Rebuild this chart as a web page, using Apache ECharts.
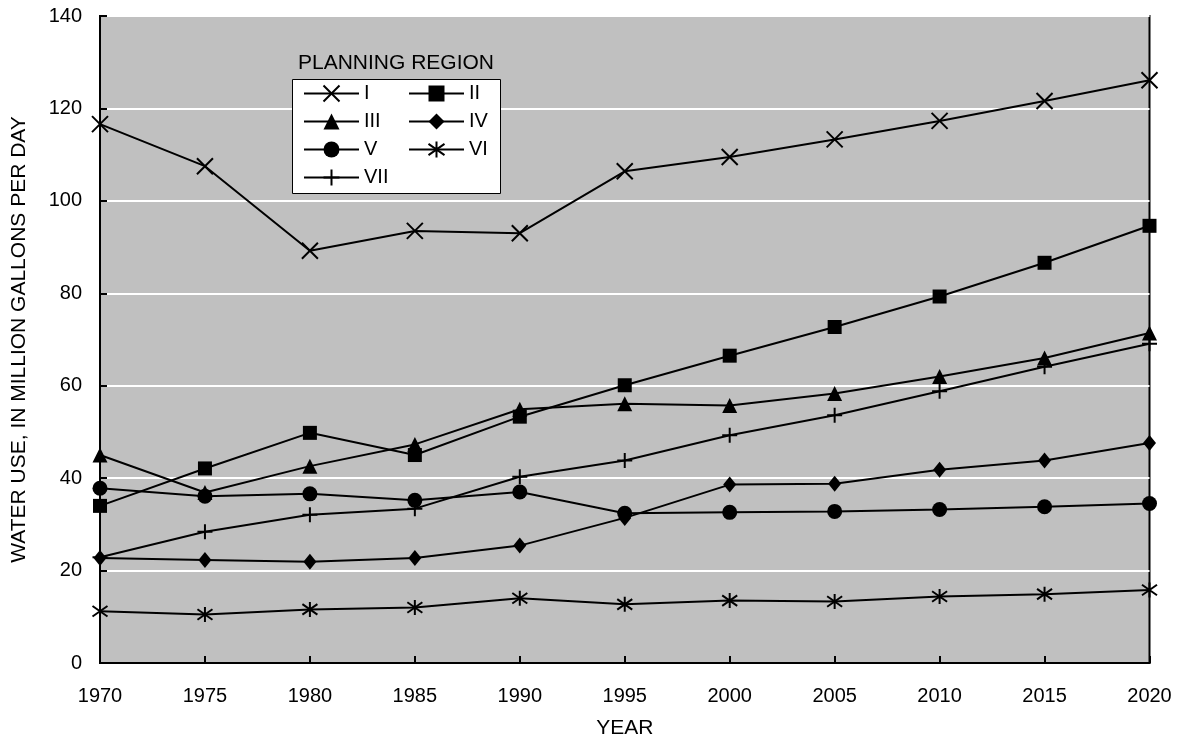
<!DOCTYPE html>
<html>
<head>
<meta charset="utf-8">
<script src="https://cdn.jsdelivr.net/npm/echarts@6/dist/echarts.min.js"></script>
<style>
html,body{margin:0;padding:0;background:#fff;}
#chart{width:1184px;height:744px;}
</style>
</head>
<body>
<div id="chart"></div>
<script>
const years = ['1970','1975','1980','1985','1990','1995','2000','2005','2010','2015','2020'];
const regionI   = [116.6, 107.5, 89.2, 93.5, 93.0, 106.4, 109.5, 113.3, 117.3, 121.6, 126.1];
const regionII  = [34.0, 42.1, 49.8, 45.0, 53.3, 60.1, 66.5, 72.7, 79.3, 86.6, 94.6];
const regionIII = [45.0, 36.9, 42.6, 47.3, 54.9, 56.1, 55.7, 58.3, 62.0, 66.0, 71.4];
const regionIV  = [22.7, 22.3, 21.9, 22.7, 25.4, 31.4, 38.6, 38.8, 41.8, 43.8, 47.6];
const regionV   = [37.8, 36.1, 36.6, 35.2, 37.0, 32.4, 32.6, 32.8, 33.2, 33.8, 34.5];
const regionVI  = [11.2, 10.5, 11.6, 12.0, 14.0, 12.7, 13.5, 13.3, 14.4, 14.9, 15.8];
const regionVII = [22.9, 28.4, 32.1, 33.4, 40.3, 43.8, 49.3, 53.6, 58.8, 64.1, 69.1];
const seriesNames = ['I','II','III','IV','V','VI','VII'];
const yTicks = {min: 0, max: 140, interval: 20};
const xTitle = 'YEAR';
const yTitle = 'WATER USE, IN MILLION GALLONS PER DAY';
const legendTitle = 'PLANNING REGION';

const FONT = 'Liberation Sans, Arial, sans-serif';
const symCross = 'path://M0,0L10,10M10,0L0,10';
const symAster = 'path://M0,1.5L10,8.5M10,1.5L0,8.5M5,0L5,10';
const symPlus  = 'path://M5,0L5,10M0,5L10,5';

function mk(name, data, symbol, size, stroked) {
  return {
    name: name, type: 'line', data: data,
    symbol: symbol, symbolSize: size, showSymbol: true,
    lineStyle: {color: '#000', width: 2},
    itemStyle: stroked ? {color: '#000', borderColor: '#000', borderWidth: 2}
                       : {color: '#000', borderColor: '#000', borderWidth: 0},
    emphasis: {disabled: true},
    animation: false
  };
}

const legendCommon = {
  orient: 'vertical', top: 83.5, padding: 0,
  itemWidth: 55, itemHeight: 20, itemGap: 8, z: 10, selectedMode: false,
  textStyle: {fontSize: 20, color: '#000', lineHeight: 20, fontFamily: FONT}
};

const chart = echarts.init(document.getElementById('chart'));
chart.setOption({
  animation: false,
  textStyle: {fontFamily: FONT},
  grid: {left: 100, right: 34.5, top: 16, bottom: 74.7, show: true,
         backgroundColor: '#c0c0c0', borderColor: '#000', borderWidth: 2},
  xAxis: {
    type: 'category', data: years, boundaryGap: false,
    name: xTitle, nameLocation: 'middle', nameGap: 55,
    nameTextStyle: {fontSize: 21, color: '#000', fontFamily: FONT},
    axisLine: {lineStyle: {color: '#000', width: 2}},
    axisTick: {inside: true, length: 7, lineStyle: {color: '#000', width: 2}},
    axisLabel: {fontSize: 20, color: '#000', margin: 23, fontFamily: FONT},
    splitLine: {show: false}
  },
  yAxis: {
    type: 'value', min: yTicks.min, max: yTicks.max, interval: yTicks.interval,
    name: yTitle, nameLocation: 'middle', nameGap: 70,
    nameTextStyle: {fontSize: 21, color: '#000', fontFamily: FONT},
    axisLine: {show: true, lineStyle: {color: '#000', width: 2}},
    axisTick: {show: true, inside: true, length: 7, lineStyle: {color: '#000', width: 2}},
    axisLabel: {fontSize: 20, color: '#000', margin: 18, fontFamily: FONT},
    splitLine: {show: true, lineStyle: {color: '#fff', width: 2}}
  },
  legend: [
    Object.assign({data: ['I','III','V','VII'], left: 303}, legendCommon),
    Object.assign({data: ['II','IV','VI'], left: 408}, legendCommon)
  ],
  graphic: [
    {type: 'rect', z: 5, shape: {x: 292.5, y: 79.5, width: 208, height: 114},
     style: {fill: '#fff', stroke: '#000', lineWidth: 1}},
    {type: 'text', z: 5, x: 298, y: 63, style: {text: legendTitle, font: '21px ' + FONT,
     fill: '#000', verticalAlign: 'middle', align: 'left'}}
  ],
  series: [
    mk(seriesNames[0], regionI, symCross, 16, true),
    mk(seriesNames[1], regionII, 'rect', 14, false),
    mk(seriesNames[2], regionIII, 'triangle', 15, false),
    mk(seriesNames[3], regionIV, 'diamond', [13, 16], false),
    mk(seriesNames[4], regionV, 'circle', 15, false),
    mk(seriesNames[5], regionVI, symAster, 15, true),
    mk(seriesNames[6], regionVII, symPlus, 15, true)
  ]
});
</script>
</body>
</html>
